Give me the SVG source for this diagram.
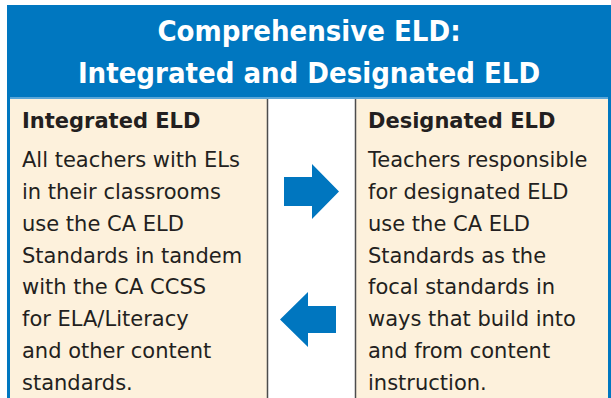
<svg xmlns="http://www.w3.org/2000/svg" width="611" height="398" viewBox="0 0 611 398">
<style>
.hd{font-family:"DejaVu Sans Condensed","DejaVu Sans",Verdana,sans-serif;font-stretch:condensed;font-weight:bold;font-size:29px;fill:#ffffff;text-anchor:middle}
.tt{font-family:"DejaVu Sans",Verdana,sans-serif;font-weight:bold;font-size:21px;fill:#231f20}
.bd{font-family:"DejaVu Sans",Verdana,sans-serif;font-size:21px;fill:#231f20}
.panel{fill:#fdf1dc}
.edge{stroke:#4d4d4d;stroke-width:1.5}
.arrow{fill:#0076bf}
</style>
<rect width="611" height="398" fill="#ffffff"/>
<g id="header">
<rect x="7" y="5" width="604" height="393" fill="#0077c0"/>
<rect x="10" y="97" width="598" height="2" fill="#5aa6d8"/>
<text class="hd" x="309" y="41">Comprehensive ELD:</text>
<text class="hd" x="309" y="83">Integrated and Designated ELD</text>
</g>
<g id="middle">
<rect x="268" y="99" width="88" height="299" fill="#ffffff"/>
</g>
<g id="integrated">
<rect class="panel" x="10" y="99" width="257" height="299"/>
<line class="edge" x1="267.5" y1="99" x2="267.5" y2="398"/>
<text class="tt" x="22" y="128">Integrated ELD</text>
<text class="bd" x="22" y="167">All teachers with ELs</text>
<text class="bd" x="22" y="199">in their classrooms</text>
<text class="bd" x="22" y="231">use the CA ELD</text>
<text class="bd" x="22" y="263">Standards in tandem</text>
<text class="bd" x="22" y="294">with the CA CCSS</text>
<text class="bd" x="22" y="326">for ELA/Literacy</text>
<text class="bd" x="22" y="358">and other content</text>
<text class="bd" x="22" y="390">standards.</text>
</g>
<g id="designated">
<rect class="panel" x="356" y="99" width="252" height="299"/>
<line class="edge" x1="355.5" y1="99" x2="355.5" y2="398"/>
<text class="tt" x="368" y="128">Designated ELD</text>
<text class="bd" x="368" y="167">Teachers responsible</text>
<text class="bd" x="368" y="199">for designated ELD</text>
<text class="bd" x="368" y="231">use the CA ELD</text>
<text class="bd" x="368" y="263">Standards as the</text>
<text class="bd" x="368" y="294">focal standards in</text>
<text class="bd" x="368" y="326">ways that build into</text>
<text class="bd" x="368" y="358">and from content</text>
<text class="bd" x="368" y="390">instruction.</text>
</g>
<g id="connectors">
<polygon class="arrow" points="284,177 312,177 312,164 339,191.5 312,219 312,206 284,206"/>
<polygon class="arrow" points="336,306 308,306 308,292 280,319.5 308,347 308,333 336,333"/>
</g>
</svg>
